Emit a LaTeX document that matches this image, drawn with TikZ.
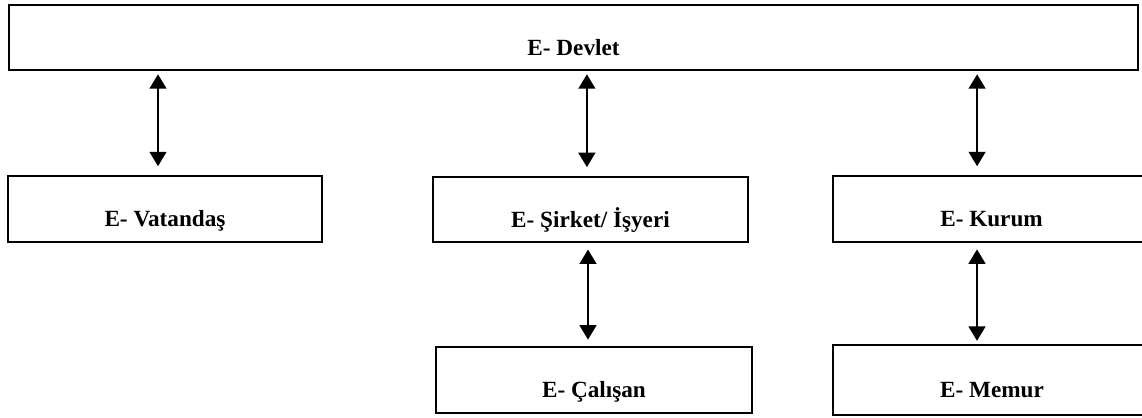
\documentclass[tikz,border=0pt]{standalone}
\usepackage{fontspec}
\setmainfont{Liberation Serif}
\usetikzlibrary{positioning,arrows.meta}
\tikzset{
    x=0.025cm,
    y=-0.025cm,
    entity/.style = {
        draw,
        shape=rectangle,
        line width=1.4pt,
        text height=0.88cm,
        text depth=0pt,
        font=\fontsize{16.5}{19}\selectfont\bfseries
    },
    link/.style = {
        draw,
        <->,
        line width=1.4pt
    },
    >={Triangle[length=0.36cm,width=0.42cm]},
}
\begin{document}
\begin{tikzpicture}
            \useasboundingbox (0,0) rectangle (1142,417);

            \node[entity, minimum width=28.23cm, minimum height=1.63cm] (devlet) at (573.5,37.5) {E- Devlet};
            \node[entity, minimum width=7.85cm, minimum height=1.65cm] (vatandas) at (165,209) {E- Vatandaş};
            \node[entity, minimum width=7.88cm, minimum height=1.63cm] (sirket) at (590.5,209.5) {E- Şirket/ İşyeri};
            \node[entity, minimum width=7.93cm, minimum height=1.65cm] (kurum) at (991.5,209) {E- Kurum};
            \node[entity, minimum width=7.9cm, minimum height=1.65cm] (calisan) at (594,380) {E- Çalışan};
            \node[entity, minimum width=7.95cm, minimum height=1.75cm] (memur) at (992,380) {E- Memur};

            \path[link, shorten <=0.08cm, shorten >=0.22cm] ([xshift=-0.175cm]vatandas.north |- devlet.south) -- ([xshift=-0.175cm]vatandas.north);
            \path[link, shorten <=0.08cm, shorten >=0.22cm] ([xshift=-0.09cm]sirket.north |- devlet.south) -- ([xshift=-0.09cm]sirket.north);
            \path[link, shorten <=0.08cm, shorten >=0.22cm] ([xshift=-0.36cm]kurum.north |- devlet.south) -- ([xshift=-0.36cm]kurum.north);

            \path[link, shorten <=0.16cm, shorten >=0.16cm] ([xshift=-0.15cm]calisan.north |- sirket.south) -- ([xshift=-0.15cm]calisan.north);
            \path[link, shorten <=0.16cm, shorten >=0.08cm] ([xshift=-0.375cm]memur.north |- kurum.south) -- ([xshift=-0.375cm]memur.north);

        \end{tikzpicture}
\end{document}
